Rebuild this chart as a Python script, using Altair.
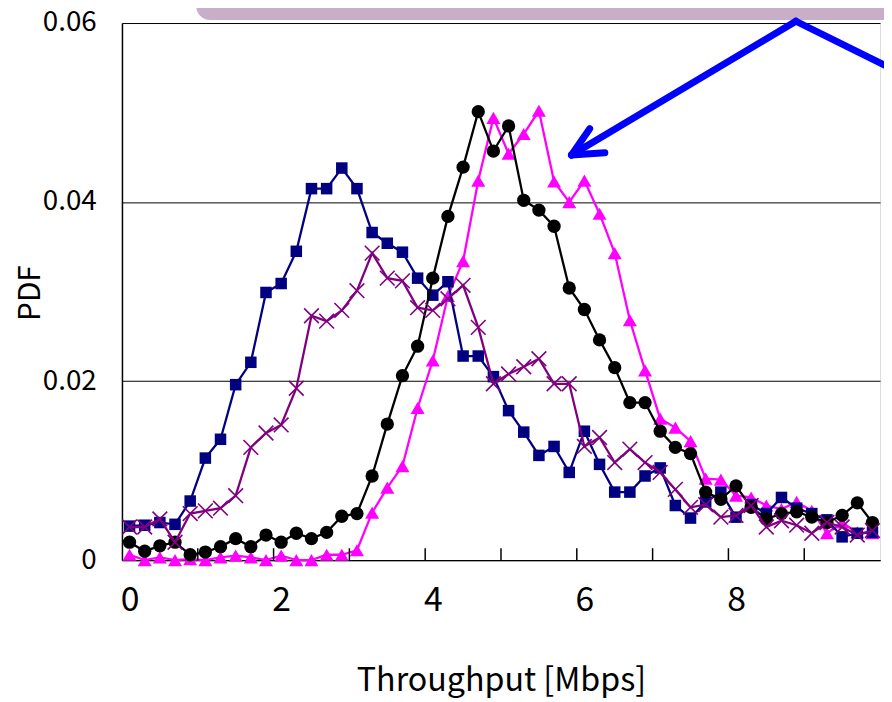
import altair as alt
import pandas as pd

# bin centres [Mbps]
throughput = [0.0, 0.2, 0.4, 0.6, 0.8, 1.0, 1.2, 1.4, 1.6, 1.8,
              2.0, 2.2, 2.4, 2.6, 2.8, 3.0, 3.2, 3.4, 3.6, 3.8,
              4.0, 4.2, 4.4, 4.6, 4.8, 5.0, 5.2, 5.4, 5.6, 5.8,
              6.0, 6.2, 6.4, 6.6, 6.8, 7.0, 7.2, 7.4, 7.6, 7.8,
              8.0, 8.2, 8.4, 8.6, 8.8, 9.0, 9.2, 9.4, 9.6, 9.8]

navy_sq = [0.0038, 0.0039, 0.0042, 0.0040, 0.0066, 0.0114, 0.0135, 0.0196, 0.0221, 0.0299,
           0.0309, 0.0345, 0.0415, 0.0415, 0.0438, 0.0415, 0.0366, 0.0354, 0.0344, 0.0315,
           0.0296, 0.0311, 0.0228, 0.0228, 0.0205, 0.0167, 0.0143, 0.0117, 0.0127, 0.0098,
           0.0144, 0.0107, 0.0076, 0.0076, 0.0094, 0.0103, 0.0061, 0.0047, 0.0065, 0.0076,
           0.0048, 0.0062, 0.0052, 0.0070, 0.0058, 0.0052, 0.0045, 0.0026, 0.0030, 0.0031]

purple_x = [0.0037, 0.0037, 0.0046, 0.0020, 0.0052, 0.0055, 0.0058, 0.0072, 0.0126, 0.0142,
            0.0151, 0.0192, 0.0273, 0.0267, 0.0279, 0.0301, 0.0343, 0.0315, 0.0312, 0.0282,
            0.0279, 0.0292, 0.0307, 0.0260, 0.0197, 0.0208, 0.0216, 0.0225, 0.0197, 0.0197,
            0.0127, 0.0137, 0.0109, 0.0124, 0.0109, 0.0098, 0.0079, 0.0059, 0.0062, 0.0048,
            0.0050, 0.0061, 0.0037, 0.0044, 0.0039, 0.0030, 0.0042, 0.0037, 0.0028, 0.0033]

black_o = [0.0020, 0.0010, 0.0016, 0.0020, 0.0006, 0.0009, 0.0015, 0.0024, 0.0015, 0.0028,
           0.0020, 0.0030, 0.0024, 0.0031, 0.0049, 0.0052, 0.0094, 0.0152, 0.0206, 0.0239,
           0.0315, 0.0384, 0.0439, 0.0501, 0.0457, 0.0485, 0.0402, 0.0391, 0.0373, 0.0304,
           0.0280, 0.0246, 0.0215, 0.0176, 0.0176, 0.0144, 0.0126, 0.0119, 0.0076, 0.0068,
           0.0083, 0.0059, 0.0046, 0.0052, 0.0054, 0.0048, 0.0042, 0.0050, 0.0064, 0.0042]

magenta_tri = [0.0006, 0.0000, 0.0003, 0.0000, 0.0001, 0.0000, 0.0003, 0.0005, 0.0003, 0.0000,
               0.0005, 0.0000, 0.0000, 0.0006, 0.0006, 0.0011, 0.0053, 0.0081, 0.0105, 0.0170,
               0.0223, 0.0295, 0.0334, 0.0424, 0.0494, 0.0454, 0.0476, 0.0502, 0.0423, 0.0400,
               0.0424, 0.0387, 0.0343, 0.0268, 0.0212, 0.0158, 0.0148, 0.0133, 0.0091, 0.0090,
               0.0072, 0.0070, 0.0061, 0.0057, 0.0065, 0.0055, 0.0030, 0.0042, 0.0031, 0.0030]

x_label_values = [0, 2, 4, 6, 8]
y_label_values = [0, 0.02, 0.04, 0.06]
inner_tick_positions = [0.9, 1.9, 2.9, 3.9, 4.9, 5.9, 6.9, 7.9, 8.9]

# annotation (callout arrow) in data coordinates
arrow_x = [8.79, 8.79, 5.83, 5.83]
arrow_x2 = [5.83, 9.96, 6.07, 6.27]
arrow_y = [0.0602, 0.0602, 0.04525, 0.04525]
arrow_y2 = [0.04525, 0.0553, 0.0482, 0.0455]

FONT = "Noto Sans CJK JP"
X_DOMAIN = [-0.1, 9.9]
Y_DOMAIN = [0, 0.06]

xs = alt.Scale(domain=X_DOMAIN, nice=False, zero=False)
ys = alt.Scale(domain=Y_DOMAIN, nice=False)


def series_layer(values, color, shape, size, filled, stroke_w=0):
    df = pd.DataFrame({"x": throughput, "y": values})
    base = alt.Chart(df).encode(
        x=alt.X("x:Q", scale=xs,
                axis=alt.Axis(values=x_label_values, format="d", title="Throughput [Mbps]",
                              grid=False, ticks=False, domainColor="black", domainWidth=1.5,
                              labelFont=FONT, labelFontSize=34, labelColor="black",
                              labelPadding=41, labelBaseline="middle",
                              titleFont=FONT, titleFontSize=32.5, titleFontWeight="normal",
                              titleColor="black", titleBaseline="alphabetic", titleY=132)),
        y=alt.Y("y:Q", scale=ys,
                axis=alt.Axis(values=y_label_values, title="PDF", grid=True, gridColor="#000000",
                              gridWidth=1, ticks=False, domainColor="black", domainWidth=1.5,
                              labelExpr="datum.value == 0 ? '0' : format(datum.value, '.2f')",
                              labelFont=FONT, labelFontSize=28, labelColor="black",
                              labelPadding=26, labelBaseline="middle",
                              titleFont=FONT, titleFontSize=30, titleFontWeight="normal",
                              titleColor="black", titleAngle=-90, titleAlign="center",
                              titleBaseline="middle", titleX=-92, titleY=272)),
    )
    line = base.mark_line(color=color, strokeWidth=2.3, clip=False)
    if filled:
        pts = base.mark_point(shape=shape, size=size, filled=True, fill=color,
                              color=color, opacity=1, clip=False)
    else:
        pts = base.mark_point(shape=shape, size=size, filled=False, color=color,
                              strokeWidth=stroke_w, opacity=1, clip=False)
    return line + pts


tick_df = pd.DataFrame({"x": inner_tick_positions})
inner_ticks = alt.Chart(tick_df).mark_rule(color="black", strokeWidth=1.5).encode(
    x=alt.X("x:Q", scale=xs), y=alt.value(542), y2=alt.value(530))

box_df = pd.DataFrame({"x": [0.88], "x2": [10.3], "y": [0.06033], "y2": [0.0640]})
box = alt.Chart(box_df).mark_rect(fill="#C9AEC9", cornerRadius=14, clip=False).encode(
    x=alt.X("x:Q", scale=xs), x2="x2:Q", y=alt.Y("y:Q", scale=ys), y2="y2:Q")

arrow_df = pd.DataFrame({"x": arrow_x, "x2": arrow_x2, "y": arrow_y, "y2": arrow_y2})
arrow = alt.Chart(arrow_df).mark_rule(color="#0000FF", strokeWidth=7, strokeCap="round",
                                      clip=False).encode(
    x=alt.X("x:Q", scale=xs), x2="x2:Q", y=alt.Y("y:Q", scale=ys), y2="y2:Q")

X_SHAPE = "M-1,-1L1,1M-1,1L1,-1"

chart = alt.layer(
    series_layer(magenta_tri, "#FF00FF", "triangle-up", 200, True),
    series_layer(navy_sq, "#000080", "square", 135, True),
    series_layer(black_o, "#000000", "circle", 180, True),
    series_layer(purple_x, "#800080", X_SHAPE, 220, False, 1.6),
    inner_ticks,
    box,
    arrow,
).properties(
    width=765,
    height=542,
    autosize=alt.AutoSizeParams(type="none"),
    padding={"left": 115, "top": 12, "right": 4, "bottom": 140},
).configure_view(
    stroke="#707070", strokeWidth=1.5
).configure(background="white")

chart.save("out.html", embed_options={"renderer": "svg", "actions": False})
